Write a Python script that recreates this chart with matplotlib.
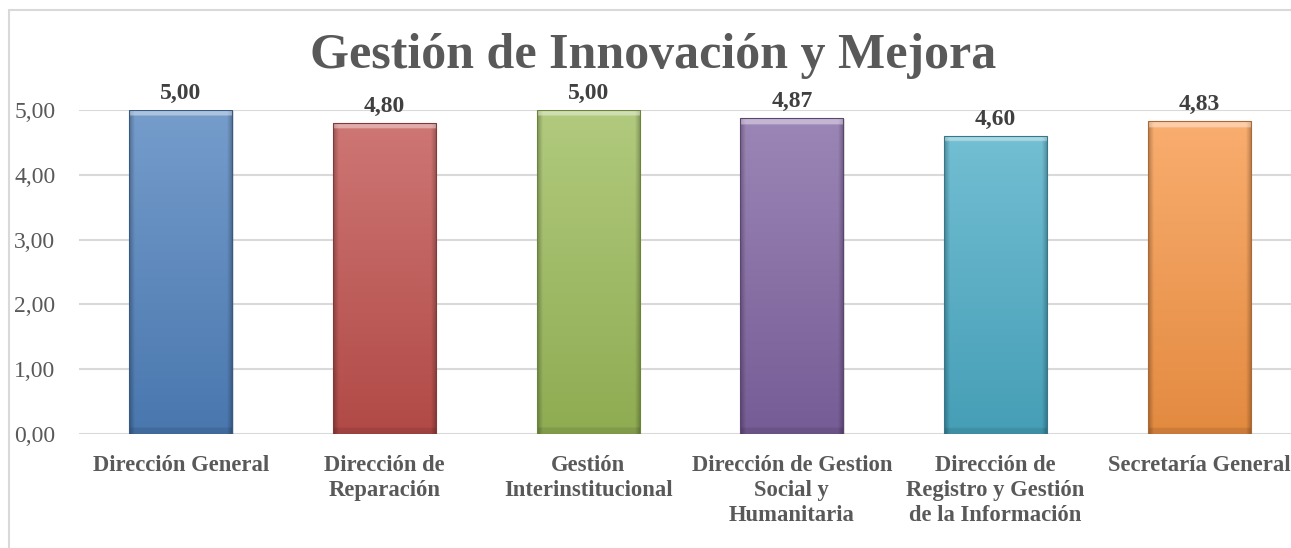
import numpy as np
import matplotlib
matplotlib.use("Agg")
import matplotlib.pyplot as plt
from matplotlib.patches import Rectangle
from matplotlib.colors import to_rgb

categories = ["Dirección General", "Dirección de\nReparación", "Gestión\nInterinstitucional",
              "Dirección de Gestion\nSocial y\nHumanitaria",
              "Dirección de\nRegistro y Gestión\nde la Información", "Secretaría General"]
values = [5.00, 4.80, 5.00, 4.87, 4.60, 4.83]
colors = ["#4F81BD", "#C0504D", "#9BBB59", "#8064A2", "#4BACC6", "#F79646"]
yticks = [0, 1, 2, 3, 4, 5]
title = "Gestión de Innovación y Mejora"

W, H = 1291, 548
fig = plt.figure(figsize=(W / 100, H / 100), dpi=100)
fam = ["Liberation Serif", "DejaVu Serif"]

# outer border
fig.patches.append(Rectangle((9 / W, -0.2), 2, 1.2 - 10 / H, transform=fig.transFigure,
                             fill=False, edgecolor="#d9d9d9", linewidth=1.5))

ax = fig.add_axes([79 / W, (H - 434) / H, (1301 - 79) / W, (434 - 110) / H])
ax.set_xlim(-0.5, len(categories) - 0.5)
ax.set_ylim(0, 5)
for s in ax.spines.values():
    s.set_visible(False)
ax.set_yticks(yticks)
ax.set_yticklabels([f"{t:.2f}".replace(".", ",") for t in yticks], fontsize=17,
                   color="#595959", family=fam)
ax.tick_params(axis="y", length=0, pad=17)
ax.tick_params(axis="x", length=0, pad=15)
ax.grid(axis="y", color="#d9d9d9", linewidth=1.5)
ax.set_axisbelow(True)
ax.set_xticks(range(len(categories)))
ax.set_xticklabels(categories, fontsize=16.3, fontweight="bold", color="#595959",
                   family=fam, linespacing=1.27, va="top")

x = np.arange(len(categories))
bars = ax.bar(x, values, width=0.506, color="none", edgecolor="none", zorder=3)

def mix(c, w, t):
    c = np.array(to_rgb(c)); w = np.array(to_rgb(w))
    return c * (1 - t) + w * t

for b, col in zip(bars, colors):
    x0, w, h = b.get_x(), b.get_width(), b.get_height()
    ny, nx = 200, 60
    yy = np.linspace(1, 0, ny)[:, None]  # 1 = top
    xx = np.linspace(0, 1, nx)[None, :]
    light = mix(col, "white", 0.22)
    dark = mix(col, "black", 0.08)
    img = dark[None, None, :] * (1 - yy[..., None]) + light[None, None, :] * yy[..., None]
    img = np.broadcast_to(img, (ny, nx, 3)).copy()
    edge = np.clip(1 - np.minimum(xx, 1 - xx) / 0.05, 0, 1)[..., None]
    img = img * (1 - 0.25 * edge)
    topfrac = 0.09 / h
    topmask = (yy > 1 - topfrac)[..., None]
    img = np.where(topmask, np.clip(img * 0.6 + 0.4, 0, 1), img)
    botmask = (yy < 0.08 / h)[..., None]
    img = np.where(botmask, img * 0.9, img)
    ax.add_patch(Rectangle((x0 + 0.006, -0.03), w, h + 0.02, facecolor="#000000",
                           alpha=0.12, edgecolor="none", zorder=2.5))
    im = ax.imshow(img, extent=[x0, x0 + w, 0, h], aspect="auto", zorder=3,
                   interpolation="bilinear")
    im.set_clip_path(b)
    ax.add_patch(Rectangle((x0, 0), w, h, fill=False,
                           edgecolor=mix(col, "black", 0.3), linewidth=0.8, zorder=4))

for xi, v in zip(x, values):
    ax.text(xi, v + 0.17, f"{v:.2f}".replace(".", ","), ha="center", va="baseline",
            fontsize=17, fontweight="bold", color="#404040", family=fam, clip_on=False)

ax.set_xlim(-0.5, len(categories) - 0.5)
ax.set_ylim(0, 5)

fig.text(653 / W, 1 - 68 / H, title, ha="center", va="baseline", fontsize=36,
         fontweight="bold", color="#595959", family=fam)

fig.savefig("out.png", dpi=100)
